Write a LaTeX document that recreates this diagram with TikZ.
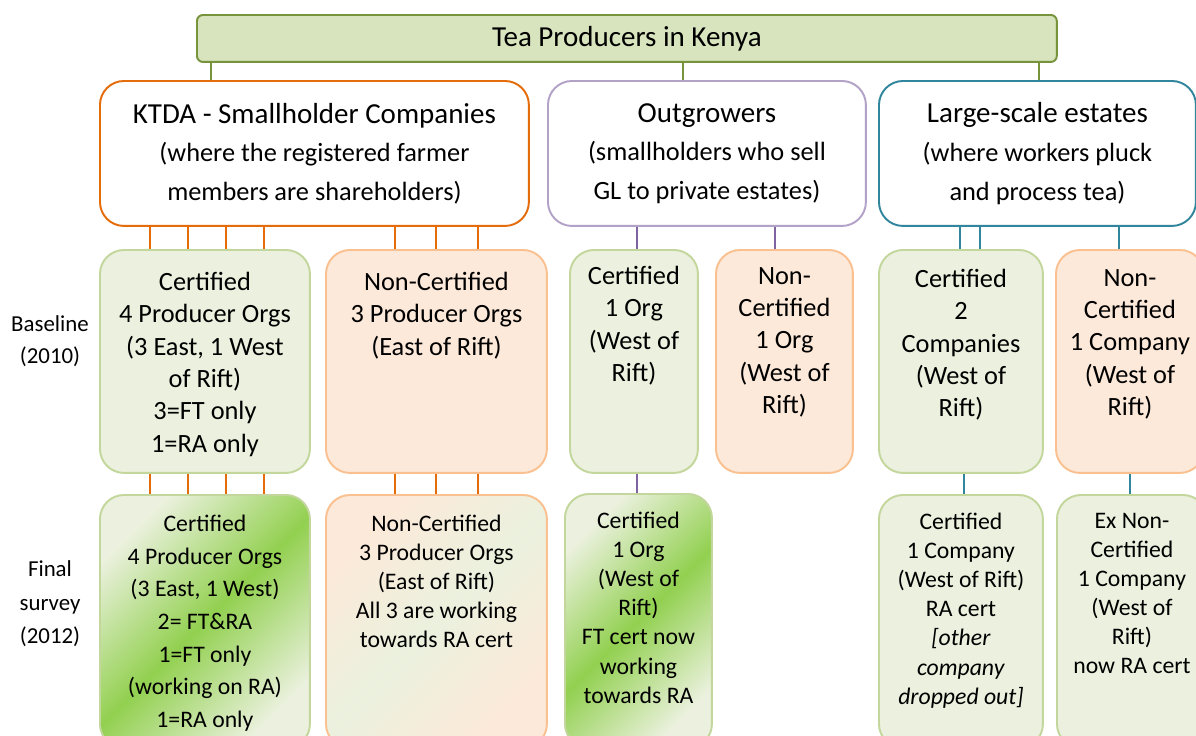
\documentclass[tikz,border=0pt]{standalone}
\usepackage{fontspec}
\setmainfont{Carlito}
\usepackage{tikz}
\usetikzlibrary{positioning}
\definecolor{teafill}{RGB}{215,228,189}
\definecolor{teadraw}{RGB}{119,147,60}
\definecolor{ktdaorange}{RGB}{228,108,10}
\definecolor{outlilac}{RGB}{179,162,199}
\definecolor{outpurple}{RGB}{128,100,162}
\definecolor{estteal}{RGB}{49,133,156}
\definecolor{certfill}{RGB}{235,241,222}
\definecolor{certdraw}{RGB}{195,214,155}
\definecolor{nonfill}{RGB}{253,233,217}
\definecolor{nondraw}{RGB}{250,192,144}
\definecolor{certgreen}{RGB}{146,208,80}
\tikzset{
  box/.style={draw,rounded corners=0.48cm,line width=1.1pt,anchor=north west,inner sep=0pt},
  groupbox/.style={box,fill=white,align=center,font=\fontsize{15}{22}\selectfont,minimum height=2.9cm},
  certbox/.style={box,fill=certfill,draw=certdraw},
  nonbox/.style={box,fill=nonfill,draw=nondraw},
  certshade/.style={box,draw=certdraw,top color=certfill,bottom color=certfill,middle color=certgreen,shading angle=45},
  nonshade/.style={box,draw=nondraw,top color=nonfill,bottom color=nonfill,middle color=certfill,shading angle=45},
  basetext/.style={align=center,inner sep=0pt,font=\fontsize{15}{18.4}\selectfont},
  finaltext/.style={align=center,inner sep=0pt,font=\fontsize{13.5}{16.6}\selectfont},
  rowlabel/.style={align=center,font=\fontsize{13}{18.5}\selectfont},
  link/.style={line width=1.1pt}
}

\begin{document}
\begin{tikzpicture}[x=0.02cm,y=-0.02cm]
    \clip (0,0) rectangle (1196,735);
    % top and groups
    \node[box,rounded corners=0.12cm,fill=teafill,draw=teadraw,minimum width=17.2cm,minimum height=0.94cm,font=\fontsize{16.5}{20}\selectfont] (tea) at (196,14) {Tea Producers in Kenya};
    \node[groupbox,draw=ktdaorange,minimum width=8.58cm] (ktda) at (99,80) {{\fontsize{16.5}{22}\selectfont KTDA - Smallholder Companies}\\(where the registered farmer\\members are shareholders)};
    \node[groupbox,draw=outlilac,minimum width=6.36cm] (outg) at (547,80) {{\fontsize{16.5}{22}\selectfont Outgrowers}\\(smallholders who sell\\GL to private estates)};
    \node[groupbox,draw=estteal,minimum width=6.34cm] (est) at (878,80) {{\fontsize{16.5}{22}\selectfont Large-scale estates}\\(where workers pluck\\and process tea)};
    % baseline row
    \node[rowlabel] (base) at (50,341) {Baseline\\(2010)};
    \node[certbox,minimum width=4.2cm,minimum height=4.46cm] (kcert) at (99,249) {};
    \node[nonbox,minimum width=4.42cm,minimum height=4.46cm] (knon) at (325,249) {};
    \node[certbox,minimum width=2.56cm,minimum height=4.46cm] (ocert) at (569,249) {};
    \node[nonbox,minimum width=2.74cm,minimum height=4.46cm] (onon) at (715,249) {};
    \node[certbox,minimum width=3.28cm,minimum height=4.46cm] (ecert) at (878,249) {};
    \node[nonbox,minimum width=2.96cm,minimum height=4.46cm] (enon) at (1055,249) {};
    \node[basetext,below=0.46cm of kcert.north] (kcerttxt) {Certified\\4 Producer Orgs\\(3 East, 1 West\\of Rift)\\3=FT only\\1=RA only};
    \node[basetext,below=0.46cm of knon.north] (knontxt) {Non-Certified\\3 Producer Orgs\\(East of Rift)};
    \node[basetext,below=0.34cm of ocert.north] (ocerttxt) {Certified\\1 Org\\(West of\\Rift)};
    \node[basetext,below=0.36cm of onon.north] (anontxt) {Non-\\Certified\\1 Org\\(West of\\Rift)};
    \node[basetext,below=0.40cm of ecert.north] (ecerttxt) {Certified\\2\\Companies\\(West of\\Rift)};
    \node[basetext,below=0.40cm of enon.north] (enontxt) {Non-\\Certified\\1 Company\\(West of\\Rift)};
    % final survey row
    \node[rowlabel,font=\fontsize{13}{19}\selectfont] (final) at (50,604) {Final\\survey\\(2012)};
    \node[certshade,minimum width=4.2cm,minimum height=5.06cm] (kcertfin) at (99,494) {};
    \node[nonshade,minimum width=4.42cm,minimum height=5.06cm] (knonfin) at (325,494) {};
    \node[certshade,minimum width=2.94cm,minimum height=5.08cm] (ocertfin) at (564,493) {};
    \node[certbox,minimum width=3.28cm,minimum height=5.06cm] (ecertfin) at (878,494) {};
    \node[certbox,minimum width=3.0cm,minimum height=5.06cm] (enonfin) at (1056,494) {};
    \node[finaltext,font=\fontsize{13.5}{18.6}\selectfont,below=0.41cm of kcertfin.north] (kcertfintxt) {Certified\\4 Producer Orgs\\(3 East, 1 West)\\2= FT\&RA\\1=FT only\\(working on RA)\\1=RA only};
    \node[finaltext,below=0.41cm of knonfin.north] (knonfintxt) {Non-Certified\\3 Producer Orgs\\(East of Rift)\\All 3 are working\\towards RA cert};
    \node[finaltext,below=0.37cm of ocertfin.north] (ocertfintxt) {Certified\\1 Org\\(West of\\Rift)\\FT cert now\\working\\towards RA};
    \node[finaltext,below=0.37cm of ecertfin.north] (ecertfintxt) {Certified\\1 Company\\(West of Rift)\\RA cert\\\textit{[other}\\\textit{company}\\\textit{dropped out]}};
    \node[finaltext,below=0.37cm of enonfin.north] (enonfintxt) {Ex Non-\\Certified\\1 Company\\(West of\\Rift)\\now RA cert};
    % connectors
    \draw[link,teadraw] (tea.south -| 211,0) -- (ktda.north -| 211,0);
    \draw[link,teadraw] (tea.south -| 683,0) -- (outg.north -| 683,0);
    \draw[link,teadraw] (tea.south -| 1039,0) -- (est.north -| 1039,0);
    \foreach \x in {150,188,226,264} {
      \draw[link,ktdaorange] (ktda.south -| \x,0) -- (kcert.north -| \x,0);
      \draw[link,ktdaorange] (kcert.south -| \x,0) -- (kcertfin.north -| \x,0);
    }
    \foreach \x in {395,436,478} {
      \draw[link,ktdaorange] (ktda.south -| \x,0) -- (knon.north -| \x,0);
      \draw[link,ktdaorange] (knon.south -| \x,0) -- (knonfin.north -| \x,0);
    }
    \draw[link,outpurple] (outg.south -| 637,0) -- (ocert.north -| 637,0);
    \draw[link,outpurple] (outg.south -| 775,0) -- (onon.north -| 775,0);
    \draw[link,outpurple] (ocert.south -| 637,0) -- (ocertfin.north -| 637,0);
    \foreach \x in {960,980}
      \draw[link,estteal] (est.south -| \x,0) -- (ecert.north -| \x,0);
    \draw[link,estteal] (est.south -| 1119,0) -- (enon.north -| 1119,0);
    \draw[link,estteal] (ecert.south -| 964,0) -- (ecertfin.north -| 964,0);
    \draw[link,estteal] (enon.south -| 1130,0) -- (enonfin.north -| 1130,0);
\end{tikzpicture}
\end{document}
